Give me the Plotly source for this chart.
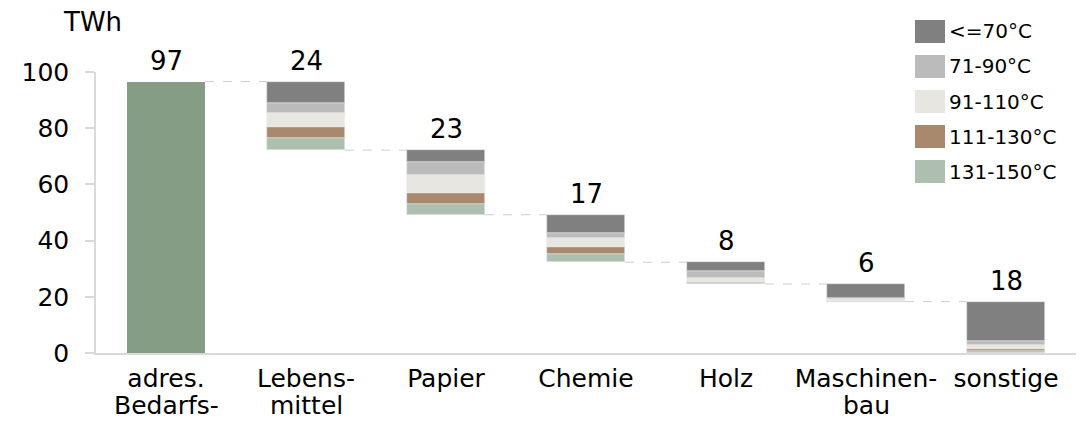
import plotly.graph_objects as go

cat_line1 = ["adres.", "Lebens-", "Papier", "Chemie", "Holz", "Maschinen-", "sonstige"]
cat_line2 = ["Bedarfs-", "mittel", "", "", "", "bau", ""]
total = 96.6
series_names = ["<=70°C", "71-90°C", "91-110°C", "111-130°C", "131-150°C"]
s70 = [7.7, 4.4, 6.5, 3.0, 5.0, 14.1]
s90 = [3.6, 4.5, 1.6, 2.6, 0.35, 1.5]
s110 = [4.9, 6.2, 3.2, 1.6, 0.6, 1.3]
s130 = [4.0, 3.9, 2.6, 0.2, 0.1, 0.7]
s150 = [4.2, 4.0, 3.0, 0.35, 0.2, 0.7]
series = [s70, s90, s110, s130, s150]
colors = ["#808080", "#BBBBBB", "#E8E6E0", "#A8896D", "#ADBFAF"]
total_color = "#859D85"

FONT = "DejaVu Sans, Verdana, sans-serif"
W, H = 1090, 423
ml, mr, mt, mb = 96, 14, 72, 70
bw = 0.557

n = len(s70)
sums = [sum(s[i] for s in series) for i in range(n)]
tops = []
bases = []
cur = total
for v in sums:
    tops.append(cur)
    cur -= v
    bases.append(cur)

ph = H - mt - mb
pw = W - ml - mr
def px2x(px):
    return (px - ml) / pw
def py2y(py):
    return (H - mb - py) / ph

fig = go.Figure()
fig.add_trace(go.Bar(x=[0], y=[total], width=bw, marker=dict(color=total_color, line=dict(width=0)),
                     showlegend=False, hoverinfo="skip"))

# stacked segments from bottom (131-150) to top (<=70)
order = list(range(len(series)))[::-1]
for k in order:
    b = []
    for i in range(n):
        below = sum(series[j][i] for j in range(k + 1, len(series)))
        b.append(bases[i] + below)
    fig.add_trace(go.Bar(x=list(range(1, n + 1)), y=series[k], base=b, width=bw, name=series_names[k],
                         marker=dict(color=colors[k], line=dict(color="rgba(235,235,235,0.9)", width=0.6)),
                         showlegend=False))

# value labels
label_x = [0] + list(range(1, n + 1))
label_y = [total] + tops
label_t = [f"{round(total)}"] + [f"{int(v + 0.5)}" for v in sums]
for lx, ly, lt in zip(label_x, label_y, label_t):
    fig.add_annotation(x=lx, y=ly, xref="x", yref="y", text=lt, showarrow=False, xanchor="center",
                       yanchor="bottom", yshift=4, font=dict(family=FONT, size=26, color="#000000"))

# second lines of category labels
for i, t in enumerate(cat_line2):
    if t:
        fig.add_annotation(x=i, y=py2y(405), xref="x", yref="paper", text=t, showarrow=False,
                           xanchor="center", yanchor="middle", font=dict(family=FONT, size=25, color="#000000"))

# connectors
levels = [total] + bases[:-1]
for i, lv in enumerate(levels):
    fig.add_shape(type="line", x0=i + bw / 2, x1=i + 1 - bw / 2, y0=lv, y1=lv, xref="x", yref="y",
                  line=dict(color="#CFCFCF", width=1, dash="dash"))

# custom legend
for r, name in enumerate(series_names):
    y0 = 20 + 35 * r
    fig.add_shape(type="rect", xref="paper", yref="paper", x0=px2x(915), x1=px2x(945),
                  y0=py2y(y0 + 23), y1=py2y(y0), fillcolor=colors[r], line=dict(width=0))
    fig.add_annotation(xref="paper", yref="paper", x=px2x(947), y=py2y(y0 + 11.5), text=name,
                       showarrow=False, xanchor="left", yanchor="middle",
                       font=dict(family=FONT, size=20, color="#000000"))

fig.add_annotation(xref="paper", yref="paper", x=px2x(61), y=py2y(22), text="TWh", showarrow=False,
                   xanchor="left", yanchor="middle", font=dict(family=FONT, size=26, color="#000000"))

fig.update_layout(
    width=W, height=H, margin=dict(l=ml, r=mr, t=mt, b=mb, pad=0, autoexpand=False),
    paper_bgcolor="white", plot_bgcolor="white", barmode="overlay", bargap=0,
    font=dict(family=FONT, size=25, color="#000000"),
    xaxis=dict(range=[-0.5, n + 0.5], tickmode="array", tickvals=list(range(n + 1)), ticktext=cat_line1,
               showline=True, linecolor="#D9D9D9", linewidth=2, ticks="", showgrid=False, zeroline=False,
               ticklabelstandoff=2, automargin=False,
               tickfont=dict(family=FONT, size=25, color="#000000")),
    yaxis=dict(range=[0, 100], tickmode="array", tickvals=[0, 20, 40, 60, 80, 100],
               showline=True, linecolor="#D9D9D9", linewidth=1.5, ticks="outside", ticklen=9,
               tickcolor="#D9D9D9", tickwidth=1.5, showgrid=False, zeroline=False, ticklabelstandoff=11,
               automargin=False,
               tickfont=dict(family=FONT, size=25, color="#000000")),
)

fig.write_html("out.html")
